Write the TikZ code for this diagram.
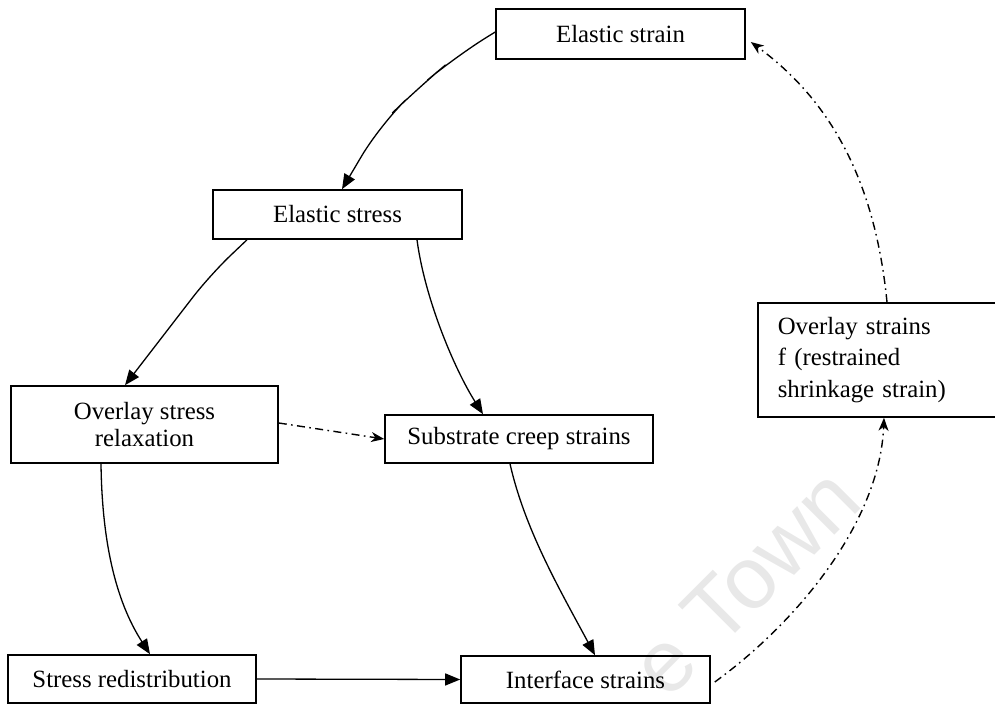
\documentclass[tikz,border=0pt]{standalone}
\usepackage{fontspec}
\setmainfont{Liberation Serif}
\newfontfamily\markfont{Liberation Sans}
\usetikzlibrary{arrows.meta,calc}

\tikzset{
  box/.style={draw, line width=0.8pt, inner sep=0pt, align=center,
    font=\fontsize{12.4}{13.5}\selectfont},
  link/.style={line width=0.65pt, -{Triangle[length=7.5pt,width=6pt]}},
  dlink/.style={line width=0.7pt, dash pattern=on 4pt off 2.2pt on 0.8pt off 2.2pt,
    -{Stealth[length=6.5pt,width=5pt,inset=2pt]}},
}

\begin{document}
\begin{tikzpicture}[x=0.5pt,y=-0.5pt]
\useasboundingbox (0,0) rectangle (995,705);
\clip (0,0) rectangle (995,705);

% faint watermark behind the chart
\node[rotate=45, text=black!9, font=\markfont\fontsize{44}{44}\selectfont]
  (mark) at (745,582) {e Town};

% boxes
\node[box, minimum width=124.5pt, minimum height=25pt]   (es)  at (620.5,34)   {Elastic strain};
\node[box, minimum width=124.5pt, minimum height=24.5pt] (est) at (337.5,214.5) {Elastic stress};
\node[box, minimum width=133.5pt, minimum height=38.5pt] (osr) at (144.5,424.5) {Overlay stress\\relaxation};
\node[box, minimum width=134pt,   minimum height=24pt]   (scs) at (519,439)     {Substrate creep strains};
\node[box, minimum width=124pt,   minimum height=24pt]   (sr)  at (132,679)     {Stress redistribution};
\node[box, minimum width=124.5pt, minimum height=23.5pt] (is)  at (585.5,679.5) {Interface strains};
\node[box, anchor=west, align=left, text width=110pt, inner xsep=10pt,
      minimum height=57pt, font=\fontsize{12.4}{15.8}\selectfont]
  (os) at (757,360) {Overlay strains\\f (restrained\\shrinkage strain)};

% solid connectors
\draw[link, rounded corners=18] ($(es.west)+(0,-2)$) -- (455,57) -- (418,88)
  -- (380,125) -- ($(est.north)+(4.5,0)$);
\draw[link, rounded corners=14] ($(est.south)+(-90.5,0)$) -- (210,275)
  -- ($(osr.north)+(-19.5,0)$);
\draw[link] ($(est.south)+(79.5,0)$) .. controls (425,300) and (455,370)
  .. ($(scs.north)+(-36,0)$);
\draw[link] ($(osr.south)+(-43.5,0)$) .. controls (102,540) and (115,600)
  .. ($(sr.north)+(18,0)$);
\draw[link] ($(scs.south)+(-9,0)$) .. controls (525,530) and (560,590)
  .. ($(is.north)+(9.5,0)$);
\draw[link] (sr.east) -- (is.west);

% dash-dotted connectors
\draw[dlink] ($(osr.east)+(0,-1.5)$) -- ($(scs.west)+(0,0)$);
\draw[dlink] ($(is.east)+(4,2.5)$) .. controls (800,620) and (880,520)
  .. ($(os.south west)+(127,0)$);
\draw[dlink] ($(os.north west)+(130,0)$) .. controls (875,180) and (830,100)
  .. ($(es.east)+(5,8)$);
\end{tikzpicture}
\end{document}
